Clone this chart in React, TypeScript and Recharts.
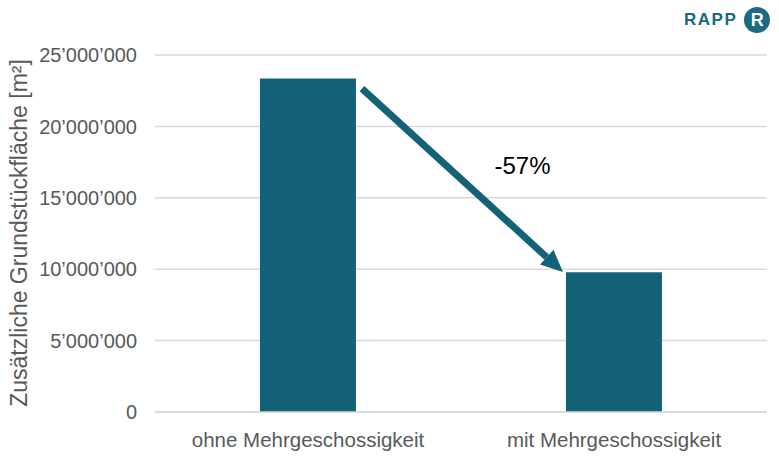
import { BarChart, Bar, XAxis, YAxis, CartesianGrid, ReferenceLine } from 'recharts';

const categories = ['ohne Mehrgeschossigkeit', 'mit Mehrgeschossigkeit'];
const values = [23350000, 9780000];
const yTicks = [0, 5000000, 10000000, 15000000, 20000000, 25000000];
const changeLabel = '-57%';
const arrowFrom = 22650000;
const arrowTo = 9800000;

const data = categories.map((name, i) => ({ name, value: values[i] }));

const BAR = '#136277';
const TEXT = '#595959';
const GRID = '#d9d9d9';

const formatTick = (v: number) => String(v).replace(/\B(?=(\d{3})+(?!\d))/g, '\u2019');

const CategoryTick = (props: any) => {
  const { x, y, payload } = props;
  return (
    <text x={x} y={y + 20} textAnchor="middle" fontSize={20.5} fill={TEXT}>
      {payload.value}
    </text>
  );
};

// arrow drawn between the two category centres, shifted towards the gap between the bars
const Arrow = (props: any) => {
  const x1 = props.x1 + 54;
  const y1 = props.y1;
  const x2 = props.x2 - 51;
  const y2 = props.y2;
  const ang = Math.atan2(y2 - y1, x2 - x1);
  const head = 22;
  const half = 10;
  const bx = x2 - head * Math.cos(ang);
  const by = y2 - head * Math.sin(ang);
  const px = -Math.sin(ang) * half;
  const py = Math.cos(ang) * half;
  return (
    <g>
      <line x1={x1} y1={y1} x2={bx} y2={by} stroke={BAR} strokeWidth={7} />
      <polygon points={`${x2},${y2} ${bx + px},${by + py} ${bx - px},${by - py}`} fill={BAR} />
      <text x={(x1 + x2) / 2 + 60} y={(y1 + y2) / 2 - 6} textAnchor="middle" fontSize={24} fill="#000" fontFamily="'Liberation Sans', Arial, sans-serif">
        {changeLabel}
      </text>
    </g>
  );
};

export default function App() {
  return (
    <div style={{ position: 'relative', width: 779, height: 457, background: '#fff', fontFamily: "'Liberation Sans', Arial, sans-serif" }}>
      <style>{'body{margin:0}'}</style>
      <div style={{ position: 'absolute', left: 684, top: 7, display: 'flex', alignItems: 'center', gap: 7 }}>
        <span style={{ color: '#1b6a80', fontSize: 17, letterSpacing: 1.5, fontWeight: 600 }}>RAPP</span>
        <span style={{ width: 26, height: 26, borderRadius: '50%', background: '#1b6a80', color: '#fff', fontSize: 18, fontWeight: 700, display: 'flex', alignItems: 'center', justifyContent: 'center' }}>R</span>
      </div>
      <BarChart width={779} height={457} data={data} margin={{ top: 55, right: 12, left: 0, bottom: 0 }} barCategoryGap="34.3%">
        <CartesianGrid vertical={false} stroke={GRID} strokeWidth={1.5} />
        <XAxis
          dataKey="name"
          height={45}
          tickLine={false}
          axisLine={{ stroke: GRID, strokeWidth: 1.5 }}
          tick={<CategoryTick />}
          tickMargin={9}
        />
        <YAxis
          width={155}
          domain={[0, 25000000]}
          ticks={yTicks}
          tickFormatter={formatTick}
          tickLine={false}
          axisLine={false}
          tickSize={0}
          tickMargin={18}
          tick={{ fill: TEXT, fontSize: 20 }}
          label={{
            content: () => (
              <text transform="translate(19,233) rotate(-90)" textAnchor="middle" dominantBaseline="central" fontSize={23} fill={TEXT}>
                Zusätzliche Grundstückfläche [m²]
              </text>
            ),
          }}
        />
        <Bar dataKey="value" fill={BAR} isAnimationActive={false} />
        <ReferenceLine
          segment={[{ x: categories[0], y: arrowFrom }, { x: categories[1], y: arrowTo }]}
          shape={Arrow}
        />
      </BarChart>
    </div>
  );
}
